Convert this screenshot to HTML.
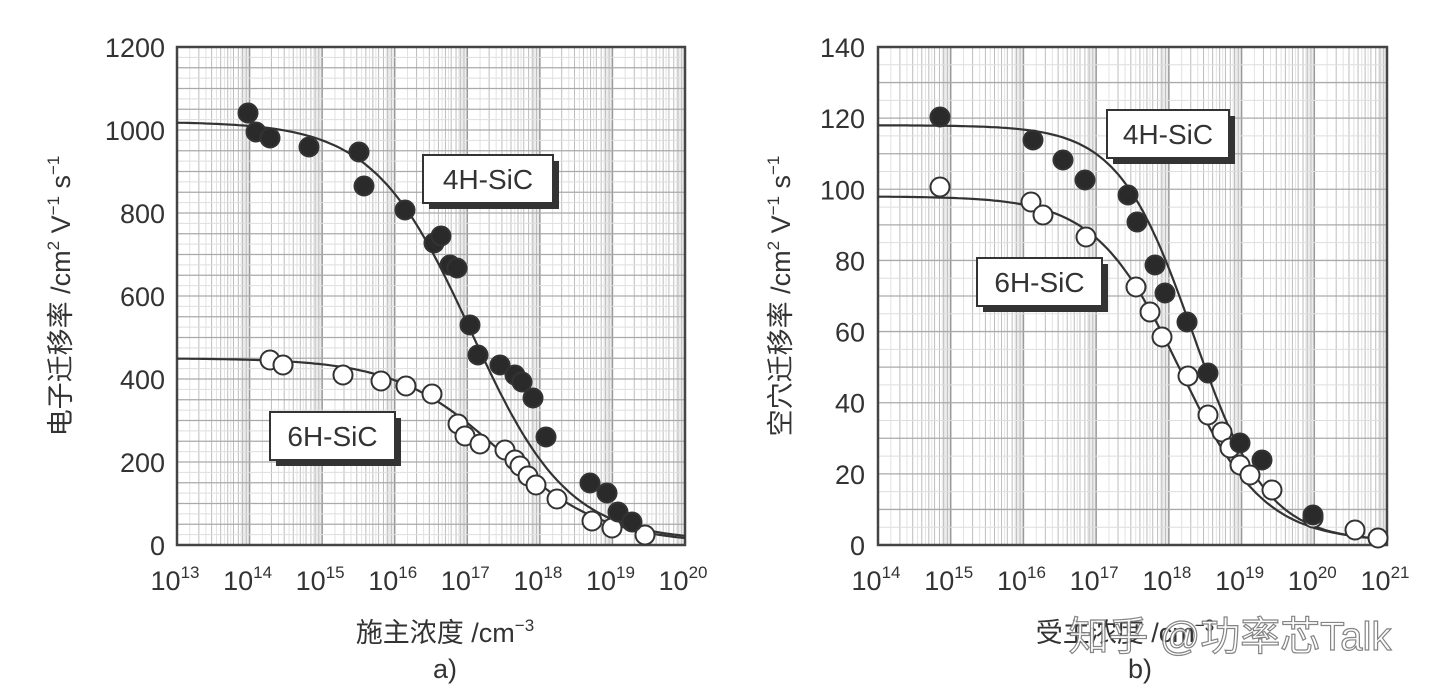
<!DOCTYPE html>
<html><head><meta charset="utf-8"><style>
html,body{margin:0;padding:0;background:#fff;}
svg{display:block;}
text{font-family:"Liberation Sans","Noto Sans CJK SC",sans-serif;fill:#333;}
</style></head><body>
<svg id="s" width="1440" height="696" xmlns="http://www.w3.org/2000/svg"></svg>
<script>
const S=document.getElementById('s');let h='';
function grid(x0,x1,y0,y1,dec,ystepPx){
  const dw=(x1-x0)/dec;
  for(let d=0;d<dec;d++){
    const bx=x0+d*dw;
    h+=`<rect x="${bx+Math.log10(7.5)*dw}" y="${y0}" width="${(1-Math.log10(7.5))*dw}" height="${y1-y0}" fill="#ececec"/>`;
    for(let k=2;k<10;k+=1){const x=bx+Math.log10(k)*dw;
      h+=`<line x1="${x}" y1="${y0}" x2="${x}" y2="${y1}" stroke="#bdbdbd" stroke-width="1"/>`;}
    for(let k=1.5;k<6;k+=1){const x=bx+Math.log10(k)*dw;
      h+=`<line x1="${x}" y1="${y0}" x2="${x}" y2="${y1}" stroke="#e2e2e2" stroke-width="1"/>`;}
    h+=`<line x1="${bx}" y1="${y0}" x2="${bx}" y2="${y1}" stroke="#999" stroke-width="1.5"/>`;
  }
  for(let y=y1;y>y0+1;y-=ystepPx){h+=`<line x1="${x0}" y1="${y}" x2="${x1}" y2="${y}" stroke="#aaa" stroke-width="1.3"/>`;
    h+=`<line x1="${x0}" y1="${y-ystepPx/2}" x2="${x1}" y2="${y-ystepPx/2}" stroke="#dedede" stroke-width="1"/>`;}
  h+=`<rect x="${x0}" y="${y0}" width="${x1-x0}" height="${y1-y0}" fill="none" stroke="#444" stroke-width="2.5"/>`;
}
function curve(x0,dw,lg0,lg1,ys,f){
  let p='';for(let L=lg0;L<=lg1+1e-9;L+=0.05){const x=x0+(L-lg0)*dw;p+=(p?'L':'M')+x.toFixed(1)+','+ys(f(L)).toFixed(1);}
  h+=`<path d="${p}" fill="none" stroke="#333" stroke-width="2.2"/>`;
}
function pts(a,filled){a.forEach(([x,y])=>h+=`<circle cx="${x}" cy="${y}" r="9.5" fill="${filled?'#2a2a2a':'#fff'}" stroke="#333" stroke-width="2"/>`);}
function box(x,y,w,hh,t){h+=`<rect x="${x+6}" y="${y+6}" width="${w}" height="${hh}" fill="#333"/><rect x="${x}" y="${y}" width="${w}" height="${hh}" fill="#fff" stroke="#333" stroke-width="2"/><text x="${x+w/2}" y="${y+hh/2+10}" font-size="28" text-anchor="middle">${t}</text>`;}
function xlab(x0,dw,e0,n,y){for(let i=0;i<=n;i++){const x=x0+i*dw;h+=`<text x="${x-2}" y="${y}" font-size="27" text-anchor="middle">10<tspan font-size="17" dy="-12">${e0+i}</tspan></text>`;}}
// Left
const L0=177,L1=685,T=47,B=545,dL=(L1-L0)/7,yl=v=>B-v*(B-T)/1200;
grid(L0,L1,T,B,7,50*(B-T)/1200);
for(let v=0;v<=1200;v+=200)h+=`<text x="165" y="${yl(v)+10}" font-size="27" text-anchor="end">${v}</text>`;
xlab(L0,dL,13,7,590);
curve(L0,dL,13,20,yl,L=>10+1010/(1+Math.pow(10,(L-17.05)*0.65)));
curve(L0,dL,13,20,yl,L=>4+446/(1+Math.pow(10,(L-17.45)*0.6)));
pts([[270,360],[283,365],[343,375],[381,381],[406,386],[432,394],[458,424],[465,436],[480,444],[505,450],[515,460],[520,466],[528,476],[536,485],[557,499],[592,521],[612,528],[645,535]],false);
pts([[248,113],[256,132],[270,138],[309,147],[359,152],[364,186],[405,210],[434,243],[441,236],[450,265],[457,268],[470,325],[478,355],[500,365],[515,375],[522,382],[533,398],[546,437],[590,483],[607,493],[618,512],[632,522]],true);
box(423,155,130,48,'4H-SiC');box(270,412,125,48,'6H-SiC');
h+=`<text transform="translate(70,296) rotate(-90)" font-size="27" text-anchor="middle">电子迁移率 /cm<tspan font-size="17" dy="-11">2</tspan><tspan dy="11"> V</tspan><tspan font-size="17" dy="-11">−1</tspan><tspan dy="11"> s</tspan><tspan font-size="17" dy="-11">−1</tspan></text>`;
h+=`<text x="445" y="642" font-size="27" text-anchor="middle">施主浓度 /cm<tspan font-size="17" dy="-11">−3</tspan></text>`;
h+=`<text x="445" y="678" font-size="27" text-anchor="middle">a)</text>`;
// Right
const R0=878,R1=1387,dR=(R1-R0)/7,yr=v=>B-v*(B-T)/140;
grid(R0,R1,T,B,7,10*(B-T)/140);
for(let v=0;v<=140;v+=20)h+=`<text x="865" y="${yr(v)+10}" font-size="27" text-anchor="end">${v}</text>`;
xlab(R0,dR,14,7,590);
curve(R0,dR,14,21,yr,L=>1+117/(1+Math.pow(10,(L-18.33)*0.85)));
curve(R0,dR,14,21,yr,L=>1+97/(1+Math.pow(10,(L-18.15)*0.75)));
pts([[940,187],[1031,202],[1043,215],[1086,237],[1136,287],[1150,312],[1162,337],[1188,376],[1208,415],[1222,432],[1230,448],[1240,465],[1250,475],[1272,490],[1313,518],[1355,530],[1378,538]],false);
pts([[940,117],[1033,140],[1063,160],[1085,180],[1128,195],[1137,222],[1155,265],[1165,293],[1187,322],[1208,373],[1240,443],[1262,460],[1313,515]],true);
box(1107,110,122,48,'4H-SiC');box(977,258,125,48,'6H-SiC');
h+=`<text transform="translate(790,296) rotate(-90)" font-size="27" text-anchor="middle">空穴迁移率 /cm<tspan font-size="17" dy="-11">2</tspan><tspan dy="11"> V</tspan><tspan font-size="17" dy="-11">−1</tspan><tspan dy="11"> s</tspan><tspan font-size="17" dy="-11">−1</tspan></text>`;
h+=`<text x="1125" y="642" font-size="27" text-anchor="middle">受主浓度 /cm<tspan font-size="17" dy="-11">−3</tspan></text>`;
h+=`<text x="1140" y="678" font-size="27" text-anchor="middle">b)</text>`;
h+=`<text x="1230" y="650" font-size="40" text-anchor="middle" style="fill:#fff;stroke:#777;stroke-width:1.2;opacity:0.9">知乎 @功率芯Talk</text>`;
S.innerHTML=h;
</script>
</body></html>
